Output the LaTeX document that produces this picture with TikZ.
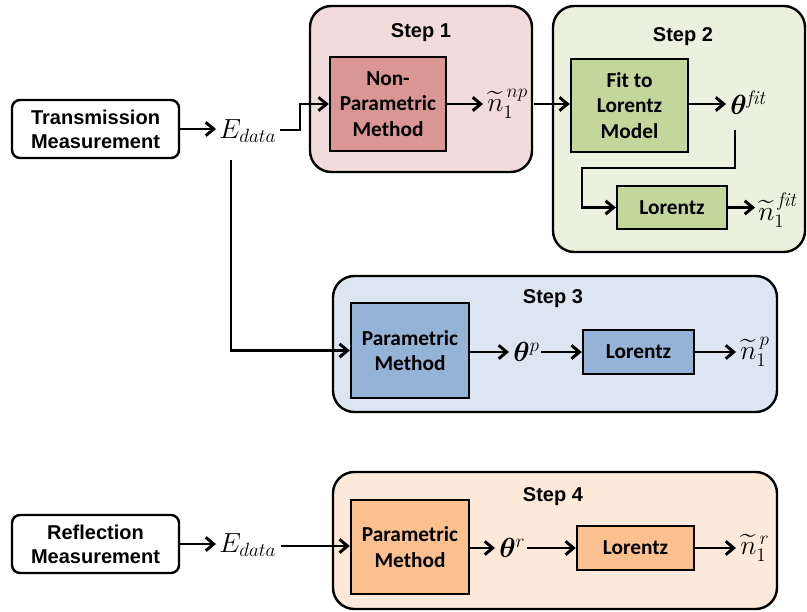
\documentclass[tikz,border=0pt]{standalone}
\usepackage{amsmath,amssymb,bm}
\usepackage{fontspec}
\newfontfamily\boxfont{Carlito}
\newfontfamily\arialfont{Liberation Sans}
\usetikzlibrary{arrows.meta,positioning}
\definecolor{sA}{HTML}{F2DCDB}\definecolor{bA}{HTML}{D99694}
\definecolor{sB}{HTML}{EBF1DE}\definecolor{bB}{HTML}{C3D69B}
\definecolor{sC}{HTML}{DCE6F2}\definecolor{bC}{HTML}{95B3D7}
\definecolor{sD}{HTML}{FDE9D9}\definecolor{bD}{HTML}{FAC090}
\def\u{0.75pt}
\begin{document}
\begin{tikzpicture}[x=0.75pt,y=-0.75pt,
  stepbg/.style={draw=black,line width=1.8pt,rounded corners=16pt},
  blk/.style={draw=black,line width=1.8pt,inner sep=0pt,align=center,
     font=\boxfont\bfseries\fontsize{16}{19}\selectfont},
  meas/.style={draw=black,line width=1.8pt,rounded corners=6pt,fill=white,inner sep=0pt,align=center,
     font=\arialfont\bfseries\fontsize{15}{18}\selectfont},
  steptitle/.style={font=\arialfont\bfseries\fontsize{15}{18}\selectfont},
  mth/.style={inner sep=0pt,font=\fontsize{21}{24}\selectfont},
  arr/.style={line width=2.2pt,-{Straight Barb[length=6pt,width=10pt,line width=2.2pt]}}]
\useasboundingbox (0,0) rectangle (807,611);
% step backgrounds
\draw[stepbg,fill=sA] (310,6) rectangle (532,172);
\draw[stepbg,fill=sB] (553,6) rectangle (805,252);
\draw[stepbg,fill=sC] (333,276) rectangle (777,412);
\draw[stepbg,fill=sD] (333,472) rectangle (777,609);
\node[steptitle] (t1) at (421,33) {Step 1};
\node[steptitle] (t2) at (683,37) {Step 2};
\node[steptitle] (t3) at (553,299) {Step 3};
\node[steptitle] (t4) at (553,497) {Step 4};
% blocks
\node[blk,fill=bA,minimum width=116*\u,minimum height=94*\u] (np) at (388,104) {Non-\\Parametric\\Method};
\node[blk,fill=bB,minimum width=117*\u,minimum height=93*\u] (fit) at (629.5,105.5) {Fit to\\Lorentz\\Model};
\node[blk,fill=bB,minimum width=110*\u,minimum height=43*\u] (lor2) at (672,207.5) {Lorentz};
\node[blk,fill=bC,minimum width=118*\u,minimum height=95*\u] (pm3) at (410,350.5) {Parametric\\Method};
\node[blk,fill=bC,minimum width=111*\u,minimum height=44*\u] (lor3) at (638.5,352) {Lorentz};
\node[blk,fill=bD,minimum width=118*\u,minimum height=94*\u] (pm4) at (410,547) {Parametric\\Method};
\node[blk,fill=bD,minimum width=117*\u,minimum height=44*\u] (lor4) at (635.5,548) {Lorentz};
\node[meas,minimum width=167*\u,minimum height=58*\u] (trans) at (95.5,129) {Transmission\\Measurement};
\node[meas,minimum width=167*\u,minimum height=58*\u] (refl) at (95.5,544) {Reflection\\Measurement};
% math labels
\node[mth,anchor=west] (ed1) at (219,131) {$E_{data}$};
\node[mth,anchor=west] (ed2) at (219,545) {$E_{data}$};
\node[mth,anchor=west] (nnp) at (487,104) {$\widetilde{n}_1^{\,np}$};
\node[mth,anchor=west] (thfit) at (730,103) {$\boldsymbol{\theta}^{\mathit{fit}}$};
\node[mth,anchor=west] (nfit) at (758,210) {$\widetilde{n}_1^{\,\mathit{fit}}$};
\node[mth,anchor=west] (thp) at (513,352) {$\boldsymbol{\theta}^{p}$};
\node[mth,anchor=west] (np3) at (740,352) {$\widetilde{n}_1^{\,p}$};
\node[mth,anchor=west] (thr) at (499,548) {$\boldsymbol{\theta}^{r}$};
\node[mth,anchor=west] (nr) at (740,548) {$\widetilde{n}_1^{\,r}$};
\coordinate (ed1s) at (231,160);
\coordinate (ed1e) at (280,130);
\coordinate (nnpe) at (534,104);
\coordinate (thfits) at (735,130);
\coordinate (thpe) at (541,352);
\coordinate (thre) at (527,548);
\coordinate (ed2e) at (281,546);
% connectors
\draw[arr] (trans.east) -- ([xshift=-3*\u]ed1.west |- trans.east);
\draw[arr] (ed1e) -- (300,130) |- (np.west);
\draw[arr] (ed1s) |- (pm3.west);
\draw[arr] (np.east) -- ([xshift=-4*\u]nnp.west |- np.east);
\draw[arr] (nnpe) -- (fit.west |- nnpe);
\draw[arr] (fit.east |- nnpe) -- ([xshift=-4*\u]thfit.west |- nnpe);
\draw[arr] (thfits) -- (735,168) -| (582,207.5) -- (lor2.west);
\draw[arr] (lor2.east) -- ([xshift=-3*\u]nfit.west |- lor2.east);
\draw[arr] (pm3.east |- lor3.west) -- ([xshift=-4*\u]thp.west |- lor3.west);
\draw[arr] (thpe) -- (lor3.west);
\draw[arr] (lor3.east) -- ([xshift=-4*\u]np3.west |- lor3.east);
\draw[arr] (refl.east) -- ([xshift=-3*\u]ed2.west |- refl.east);
\draw[arr] (ed2e) -- (pm4.west |- ed2e);
\draw[arr] (pm4.east |- lor4.west) -- ([xshift=-4*\u]thr.west |- lor4.west);
\draw[arr] (thre) -- (lor4.west);
\draw[arr] (lor4.east) -- ([xshift=-4*\u]nr.west |- lor4.east);
\end{tikzpicture}
\end{document}
